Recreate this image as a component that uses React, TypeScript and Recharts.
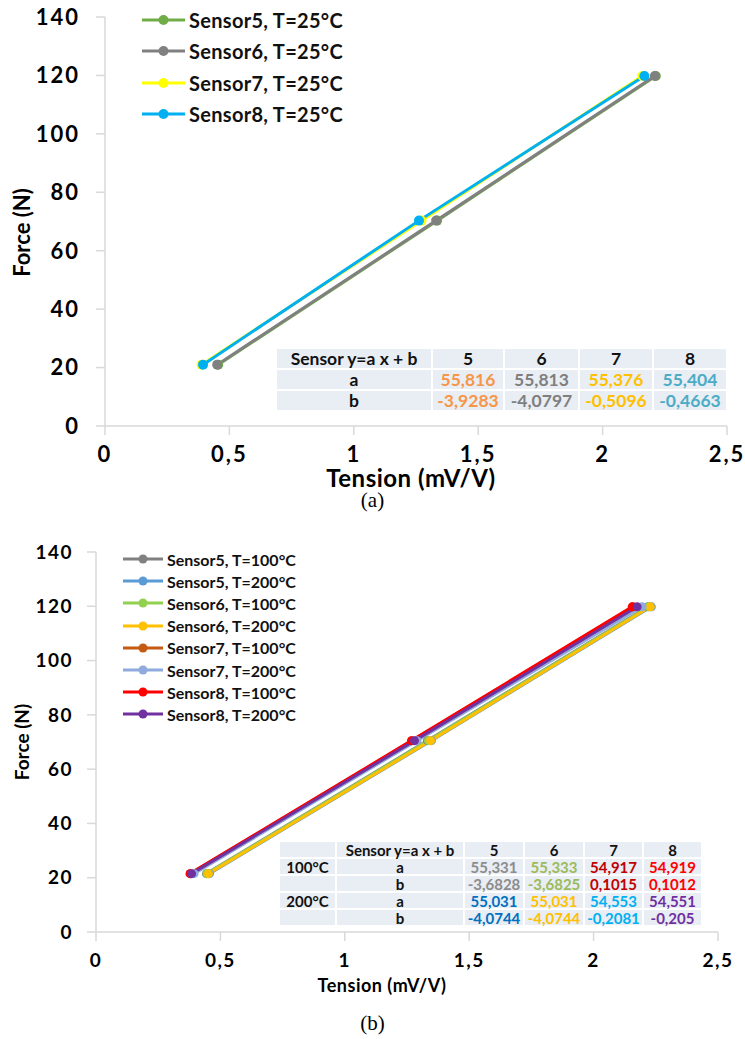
import React from 'react';
import { LineChart, Line, XAxis, YAxis } from 'recharts';

// (a) T = 25°C
const forceA = [21, 70.3, 119.8];
const tension5A = [0.455, 1.335, 2.214];
const tension6A = [0.451, 1.331, 2.21];
const tension7A = [0.388, 1.272, 2.16];
const tension8A = [0.394, 1.262, 2.168];

// (b) T = 100°C / 200°C
const forceB = [21.5, 70.5, 119.8];
const tension5_100 = [0.444, 1.332, 2.218];
const tension5_200 = [0.456, 1.348, 2.232];
const tension6_100 = [0.446, 1.336, 2.222];
const tension6_200 = [0.452, 1.345, 2.228];
const tension7_100 = [0.379, 1.27, 2.158];
const tension7_200 = [0.394, 1.29, 2.195];
const tension8_100 = [0.378, 1.268, 2.155];
const tension8_200 = [0.384, 1.28, 2.175];

const xTicks = [0, 0.5, 1, 1.5, 2, 2.5];
const yTicks = [0, 20, 40, 60, 80, 100, 120, 140];

// regression tables
const tableSensors = ['5', '6', '7', '8'];
const coefA25 = ['55,816', '55,813', '55,376', '55,404'];
const coefB25 = ['-3,9283', '-4,0797', '-0,5096', '-0,4663'];
const coefA100 = ['55,331', '55,333', '54,917', '54,919'];
const coefB100 = ['-3,6828', '-3,6825', '0,1015', '0,1012'];
const coefA200 = ['55,031', '55,031', '54,553', '54,551'];
const coefB200 = ['-4,0744', '-4,0744', '-0,2081', '-0,205'];

const colors25 = ['#70ad47', '#808080', '#ffff00', '#00b0f0'];
const tableColors25 = ['#f79646', '#7f7f7f', '#ffc000', '#4bacc6'];
const tableColors100 = ['#8c8c8c', '#9bbb59', '#c00000', '#ff0000'];
const tableColors200 = ['#0070c0', '#ffc000', '#00b0f0', '#7030a0'];

const toPoints = (xs: number[], ys: number[]) => xs.map((x, i) => ({ x, y: ys[i] }));

const seriesA = [
  { name: 'Sensor5, T=25°C', color: colors25[0], data: toPoints(tension5A, forceA) },
  { name: 'Sensor6, T=25°C', color: colors25[1], data: toPoints(tension6A, forceA) },
  { name: 'Sensor7, T=25°C', color: colors25[2], data: toPoints(tension7A, forceA) },
  { name: 'Sensor8, T=25°C', color: colors25[3], data: toPoints(tension8A, forceA) },
];

const seriesB = [
  { name: 'Sensor5, T=100°C', color: '#808080', data: toPoints(tension5_100, forceB) },
  { name: 'Sensor5, T=200°C', color: '#5b9bd5', data: toPoints(tension5_200, forceB) },
  { name: 'Sensor6, T=100°C', color: '#92d050', data: toPoints(tension6_100, forceB) },
  { name: 'Sensor6, T=200°C', color: '#ffc000', data: toPoints(tension6_200, forceB) },
  { name: 'Sensor7, T=100°C', color: '#c55a11', data: toPoints(tension7_100, forceB) },
  { name: 'Sensor7, T=200°C', color: '#8faadc', data: toPoints(tension7_200, forceB) },
  { name: 'Sensor8, T=100°C', color: '#ff0000', data: toPoints(tension8_100, forceB) },
  { name: 'Sensor8, T=200°C', color: '#7030a0', data: toPoints(tension8_200, forceB) },
];

const FONT = 'Lato, "Open Sans", sans-serif';
const AXIS = '#d9d9d9';
const fmt = (v: number) => String(v).replace('.', ',');

function SeriesLegend({ series, left, top, rowH, lineW, fontSize, r, spacing }: any) {
  return (
    <div style={{ position: 'absolute', left, top }}>
      {series.map((s: any) => (
        <div key={s.name} style={{ display: 'flex', alignItems: 'center', height: rowH }}>
          <svg width={lineW} height={14}>
            <line x1={0} y1={7} x2={lineW} y2={7} stroke={s.color} strokeWidth={3} />
            <circle cx={lineW / 2} cy={7} r={r} fill={s.color} />
          </svg>
          <span style={{ marginLeft: 4, fontFamily: FONT, fontWeight: 700, fontSize, letterSpacing: spacing, color: '#111', whiteSpace: 'nowrap' }}>{s.name}</span>
        </div>
      ))}
    </div>
  );
}

const cellBg = '#e9edf4';

function CoefTable({ left, top, cols, rows, rowH, fontSize }: any) {
  return (
    <div
      style={{
        position: 'absolute',
        left,
        top,
        display: 'grid',
        gridTemplateColumns: cols.map((c: number) => c + 'px').join(' '),
        gridAutoRows: rowH + 'px',
        gap: 2,
        fontFamily: FONT,
        fontWeight: 700,
        fontSize,
      }}
    >
      {rows.flatMap((row: any[], ri: number) =>
        row.map((cell: any, ci: number) => (
          <div
            key={ri + '-' + ci}
            style={{
              background: cellBg,
              color: cell.color || '#111',
              display: 'flex',
              alignItems: 'center',
              justifyContent: 'center',
              whiteSpace: 'nowrap',
            }}
          >
            {cell.text}
          </div>
        ))
      )}
    </div>
  );
}

const tableRowsA = [
  [{ text: 'Sensor y=a x + b' }, ...tableSensors.map((s) => ({ text: s }))],
  [{ text: 'a' }, ...coefA25.map((t, i) => ({ text: t, color: tableColors25[i] }))],
  [{ text: 'b' }, ...coefB25.map((t, i) => ({ text: t, color: tableColors25[i] }))],
];

const tableRowsB = [
  [{ text: '' }, { text: 'Sensor y=a x + b' }, ...tableSensors.map((s) => ({ text: s }))],
  [{ text: '100°C' }, { text: 'a' }, ...coefA100.map((t, i) => ({ text: t, color: tableColors100[i] }))],
  [{ text: '' }, { text: 'b' }, ...coefB100.map((t, i) => ({ text: t, color: tableColors100[i] }))],
  [{ text: '200°C' }, { text: 'a' }, ...coefA200.map((t, i) => ({ text: t, color: tableColors200[i] }))],
  [{ text: '' }, { text: 'b' }, ...coefB200.map((t, i) => ({ text: t, color: tableColors200[i] }))],
];

function ForcePlot(p: any) {
  const tick = { fill: '#000', fontSize: p.tickFont, fontWeight: 700, fontFamily: FONT, letterSpacing: p.tickSpacing };
  return (
    <LineChart width={p.width} height={p.height} margin={p.margin}>
      <XAxis
        type="number"
        dataKey="x"
        domain={[0, 2.5]}
        ticks={xTicks}
        tickFormatter={fmt}
        height={p.xHeight}
        axisLine={{ stroke: AXIS, strokeWidth: 1.5 }}
        tickLine={{ stroke: AXIS, strokeWidth: 1.5 }}
        tickSize={p.tickSize}
        tickMargin={p.xTickMargin}
        tick={tick}
        label={{ value: 'Tension (mV/V)', position: 'insideBottom', offset: p.xTitleOffset, dx: p.xTitleDx, fill: '#000', fontSize: p.xTitleFont, fontWeight: 700, fontFamily: FONT, letterSpacing: 0.5 }}
      />
      <YAxis
        type="number"
        dataKey="y"
        domain={[0, 140]}
        ticks={yTicks}
        width={p.yWidth}
        axisLine={{ stroke: AXIS, strokeWidth: 1.5 }}
        tickLine={{ stroke: AXIS, strokeWidth: 1.5 }}
        tickSize={p.tickSize}
        tickMargin={p.yTickMargin}
        tick={tick}
        label={{ value: 'Force (N)', angle: -90, position: 'insideLeft', offset: p.yTitleOffset, dy: p.yTitleDy, fill: '#000', fontSize: p.yTitleFont, fontWeight: 700, fontFamily: FONT, style: { textAnchor: 'middle' } }}
      />
      {p.series.map((s: any) => (
        <Line
          key={s.name}
          data={s.data}
          dataKey="y"
          name={s.name}
          stroke={s.color}
          strokeWidth={p.lineW}
          dot={{ r: p.dotR, fill: s.color, stroke: s.color, strokeWidth: 0 }}
          isAnimationActive={false}
        />
      ))}
    </LineChart>
  );
}

const captionStyle: React.CSSProperties = {
  position: 'absolute',
  left: 0,
  width: 745,
  textAlign: 'center',
  fontFamily: '"Liberation Serif", serif',
  fontSize: 21,
};

export default function App() {
  return (
    <div style={{ position: 'absolute', left: 0, top: 0, width: 745, height: 1039, background: '#fff' }}>
      <div style={{ position: 'absolute', left: 0, top: 0 }}>
        <ForcePlot
          series={seriesA}
          width={745}
          height={500}
          margin={{ top: 17, right: 18, left: 15, bottom: 10 }}
          yWidth={90}
          xHeight={64}
          tickFont={22}
          tickSpacing={2}
          xTitleFont={24}
          yTitleFont={22}
          xTitleDx={-5}
          xTitleOffset={3}
          yTitleOffset={7}
          yTitleDy={11}
          tickSize={9}
          yTickMargin={16}
          xTickMargin={11}
          dotR={5}
          lineW={3}
        />
        <SeriesLegend series={seriesA} left={142} top={4} rowH={31.5} lineW={43} fontSize={20} spacing={0.3} r={5} />
        <CoefTable left={277} top={349} cols={[154, 70, 73, 72, 72]} rows={tableRowsA} rowH={19} fontSize={17.5} />
      </div>
      <div style={{ ...captionStyle, top: 488 }}>(a)</div>
      <div style={{ position: 'absolute', left: 0, top: 535 }}>
        <ForcePlot
          series={seriesB}
          width={745}
          height={470}
          margin={{ top: 17, right: 27, left: 6, bottom: 13 }}
          yWidth={90}
          xHeight={60}
          tickFont={19}
          tickSpacing={1.5}
          xTitleFont={18}
          yTitleFont={19}
          xTitleDx={-25}
          xTitleOffset={0}
          yTitleOffset={16}
          yTitleDy={0}
          tickSize={9}
          yTickMargin={14}
          xTickMargin={13}
          dotR={4.5}
          lineW={3}
        />
        <SeriesLegend series={seriesB} left={123} top={13} rowH={22.2} lineW={40} fontSize={16} spacing={0} r={4.5} />
        <CoefTable left={280} top={307} cols={[55, 126, 58, 58, 57, 57]} rows={tableRowsB} rowH={15} fontSize={15} />
      </div>
      <div style={{ ...captionStyle, top: 1011 }}>(b)</div>
    </div>
  );
}
